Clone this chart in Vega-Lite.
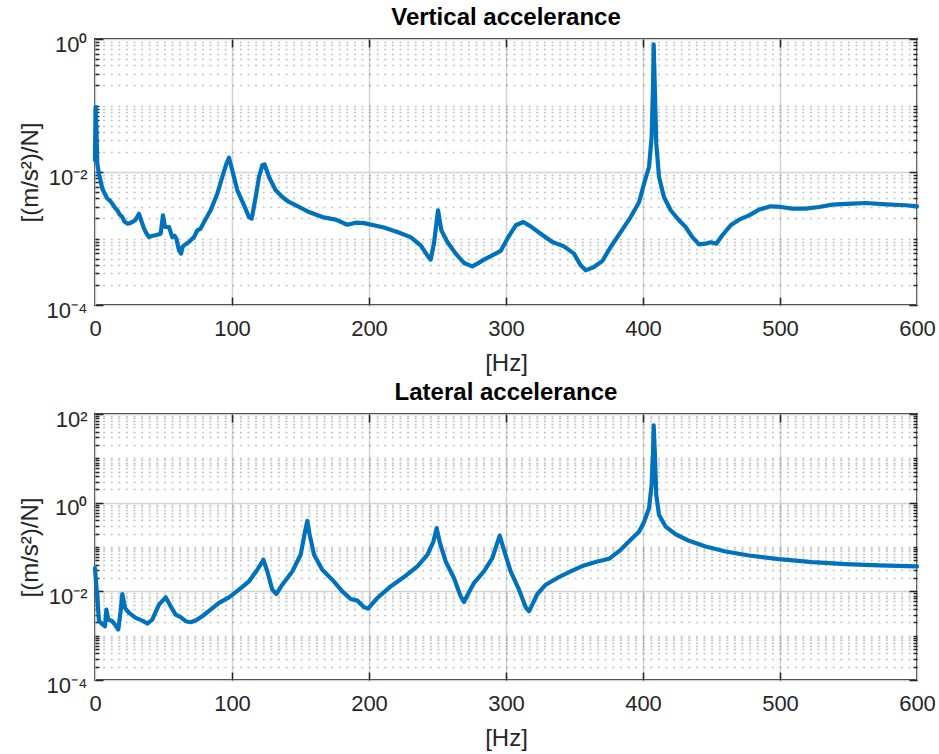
{
  "$schema": "https://vega.github.io/schema/vega-lite/v6.json",
  "background": "white",
  "padding": {"left": 17, "top": 5, "right": 16, "bottom": 2},
  "spacing": 4,
  "config": {
    "font": "Liberation Sans",
    "view": {"stroke": "#262626", "strokeWidth": 1.8},
    "axis": {
      "domain": false,
      "labelFont": "Liberation Sans",
      "labelFontSize": 22,
      "labelColor": "#262626",
      "titleFont": "Liberation Sans",
      "titleFontSize": 24,
      "titleFontWeight": "normal",
      "titleColor": "#262626",
      "tickColor": "#262626",
      "tickWidth": 1.5,
      "gridColor": "#d2d2d2",
      "gridWidth": 1.5,
      "labelFlush": false
    },
    "title": {"font": "Liberation Sans", "fontSize": 24, "fontWeight": "bold", "color": "#000000", "anchor": "middle", "offset": 3},
    "line": {"strokeWidth": 4.2, "color": "#0072BD", "strokeJoin": "round", "strokeCap": "round"}
  },
  "datasets": {
    "vert": [
      {"f":0,"a":0.015},{"f":0.4,"a":0.095},{"f":1.0,"a":0.045},{"f":1.7,"a":0.0133},{"f":2.9,"a":0.00944},{"f":5.35,"a":0.00561},{"f":7,"a":0.0048},{"f":9.0,"a":0.00397},{"f":11,"a":0.0037},{"f":12.65,"a":0.00334},{"f":14.5,"a":0.0029},{"f":16.3,"a":0.00266},{"f":18,"a":0.0023},{"f":19.95,"a":0.0021},{"f":21.5,"a":0.0018},{"f":23.6,"a":0.00167},{"f":25.5,"a":0.0017},{"f":27.25,"a":0.00177},{"f":29.5,"a":0.0019},{"f":32.1,"a":0.00236},{"f":34,"a":0.0018},{"f":35.8,"a":0.00141},{"f":37.5,"a":0.0012},{"f":39.4,"a":0.00105},{"f":42,"a":0.0011},{"f":44.3,"a":0.00112},{"f":47.9,"a":0.00118},{"f":49.6,"a":0.00223},{"f":51.1,"a":0.00149},{"f":54.0,"a":0.00149},{"f":56.4,"a":0.00105},{"f":58,"a":0.0011},{"f":59.4,"a":0.000993},{"f":61.3,"a":0.000664},{"f":62.8,"a":0.000592},{"f":64,"a":0.00075},{"f":65.0,"a":0.000788},{"f":68.6,"a":0.000885},{"f":72.3,"a":0.00105},{"f":74.7,"a":0.00133},{"f":77,"a":0.0014},{"f":79.6,"a":0.00177},{"f":84.4,"a":0.00266},{"f":89.3,"a":0.00472},{"f":92.9,"a":0.00841},{"f":95.9,"a":0.0133},{"f":97.8,"a":0.0164},{"f":100.2,"a":0.0106},{"f":103.9,"a":0.0053},{"f":108.8,"a":0.00316},{"f":112.4,"a":0.0021},{"f":114.4,"a":0.00199},{"f":117.3,"a":0.00421},{"f":119.7,"a":0.00841},{"f":122.1,"a":0.0126},{"f":123.8,"a":0.013},{"f":127.0,"a":0.00841},{"f":131.9,"a":0.0053},{"f":136.7,"a":0.00421},{"f":141.6,"a":0.00354},{"f":148.9,"a":0.00298},{"f":156.2,"a":0.0025},{"f":165.9,"a":0.0021},{"f":175.7,"a":0.00192},{"f":184.2,"a":0.00161},{"f":190.3,"a":0.00173},{"f":196.4,"a":0.0017},{"f":210.9,"a":0.00146},{"f":220.7,"a":0.00125},{"f":230.4,"a":0.00105},{"f":237.7,"a":0.000788},{"f":242.6,"a":0.000558},{"f":245.0,"a":0.000481},{"f":247.4,"a":0.000836},{"f":250.4,"a":0.00266},{"f":252.8,"a":0.00133},{"f":257.2,"a":0.000885},{"f":263.3,"a":0.000592},{"f":269.3,"a":0.000429},{"f":275.4,"a":0.000381},{"f":279.1,"a":0.000419},{"f":283.9,"a":0.000481},{"f":290.0,"a":0.000558},{"f":296.1,"a":0.000649},{"f":301.0,"a":0.000993},{"f":307.1,"a":0.00158},{"f":312.7,"a":0.00177},{"f":318.0,"a":0.00152},{"f":325.3,"a":0.00118},{"f":333.8,"a":0.000885},{"f":342.3,"a":0.000761},{"f":349.6,"a":0.000592},{"f":354.5,"a":0.000395},{"f":358.2,"a":0.000332},{"f":364.2,"a":0.000373},{"f":370.3,"a":0.000459},{"f":376.4,"a":0.000744},{"f":383.7,"a":0.00125},{"f":391.0,"a":0.0021},{"f":397.1,"a":0.0035},{"f":400.6,"a":0.0065},{"f":404.4,"a":0.0119},{"f":406.3,"a":0.0336},{"f":407.3,"a":0.19},{"f":407.8,"a":0.83},{"f":408.6,"a":0.19},{"f":409.7,"a":0.0267},{"f":411.7,"a":0.00841},{"f":415.3,"a":0.00421},{"f":420.2,"a":0.00266},{"f":426.3,"a":0.00188},{"f":431.1,"a":0.00149},{"f":436.0,"a":0.00105},{"f":440.9,"a":0.000817},{"f":445.7,"a":0.000836},{"f":449.4,"a":0.000876},{"f":453.5,"a":0.000836},{"f":457.9,"a":0.00112},{"f":464.0,"a":0.00158},{"f":470.1,"a":0.00192},{"f":477.4,"a":0.00223},{"f":484.7,"a":0.00272},{"f":493.2,"a":0.00305},{"f":500.5,"a":0.00298},{"f":509.0,"a":0.00281},{"f":518.7,"a":0.00281},{"f":528.5,"a":0.00298},{"f":538.2,"a":0.00323},{"f":552.8,"a":0.00334},{"f":562.5,"a":0.00342},{"f":577.1,"a":0.00327},{"f":591.7,"a":0.00316},{"f":600,"a":0.00305}
    ],
    "lat": [
      {"f":0,"a":0.0334},{"f":0.5,"a":0.02},{"f":1.7,"a":0.00708},{"f":2.9,"a":0.00212},{"f":5.8,"a":0.00178},{"f":7.3,"a":0.00163},{"f":8.3,"a":0.00387},{"f":9.7,"a":0.00231},{"f":12.65,"a":0.00212},{"f":15,"a":0.0017},{"f":17.0,"a":0.00138},{"f":18.7,"a":0.00356},{"f":19.95,"a":0.00871},{"f":21.9,"a":0.00422},{"f":24.8,"a":0.00326},{"f":29.7,"a":0.00252},{"f":34.5,"a":0.00219},{"f":38.2,"a":0.00188},{"f":41.8,"a":0.00231},{"f":46.7,"a":0.00501},{"f":51.6,"a":0.00733},{"f":55.2,"a":0.0046},{"f":58.9,"a":0.00299},{"f":62.5,"a":0.00261},{"f":66.2,"a":0.00212},{"f":69.8,"a":0.00201},{"f":73.5,"a":0.00219},{"f":78.3,"a":0.00274},{"f":84.4,"a":0.00387},{"f":90.5,"a":0.00547},{"f":97.8,"a":0.00733},{"f":105.1,"a":0.0109},{"f":112.4,"a":0.0168},{"f":118.5,"a":0.0307},{"f":122.9,"a":0.0516},{"f":125.8,"a":0.0281},{"f":129.4,"a":0.0109},{"f":132.4,"a":0.00871},{"f":136.7,"a":0.0141},{"f":144.0,"a":0.0281},{"f":150.1,"a":0.0667},{"f":153.3,"a":0.223},{"f":155.0,"a":0.387},{"f":156.7,"a":0.188},{"f":159.9,"a":0.0667},{"f":165.9,"a":0.0307},{"f":173.2,"a":0.0183},{"f":180.5,"a":0.01},{"f":186.6,"a":0.00673},{"f":191.5,"a":0.00617},{"f":196.4,"a":0.0044},{"f":199.3,"a":0.00408},{"f":206.1,"a":0.00708},{"f":215.8,"a":0.0129},{"f":225.5,"a":0.021},{"f":235.3,"a":0.0365},{"f":242.6,"a":0.0667},{"f":247.0,"a":0.133},{"f":249.4,"a":0.265},{"f":251.8,"a":0.122},{"f":256.0,"a":0.0472},{"f":262.0,"a":0.02},{"f":266.9,"a":0.00773},{"f":269.3,"a":0.00575},{"f":272.3,"a":0.00871},{"f":276.6,"a":0.0154},{"f":283.9,"a":0.0281},{"f":290.0,"a":0.0561},{"f":293.2,"a":0.112},{"f":295.4,"a":0.181},{"f":298.1,"a":0.0942},{"f":303.4,"a":0.0281},{"f":309.5,"a":0.0109},{"f":314.4,"a":0.00436},{"f":316.8,"a":0.00356},{"f":319.2,"a":0.00501},{"f":322.9,"a":0.00871},{"f":329.0,"a":0.0141},{"f":337.5,"a":0.02},{"f":347.2,"a":0.0281},{"f":356.9,"a":0.0384},{"f":366.7,"a":0.0472},{"f":375.2,"a":0.0542},{"f":383.7,"a":0.0863},{"f":391.0,"a":0.145},{"f":397.1,"a":0.22},{"f":400.7,"a":0.36},{"f":404.4,"a":0.746},{"f":406.3,"a":2.49},{"f":407.3,"a":14.0},{"f":407.8,"a":55.6},{"f":408.6,"a":14.0},{"f":409.7,"a":1.49},{"f":411.7,"a":0.528},{"f":416.5,"a":0.289},{"f":423.8,"a":0.194},{"f":433.6,"a":0.138},{"f":445.7,"a":0.103},{"f":460.3,"a":0.0793},{"f":477.4,"a":0.0644},{"f":499.3,"a":0.0533},{"f":523.6,"a":0.0456},{"f":547.9,"a":0.0411},{"f":572.3,"a":0.0384},{"f":600,"a":0.0365}
    ]
  },
  "vconcat": [
    {
      "width": 822,
      "height": 266,
      "title": {"text": "Vertical accelerance"},
      "data": {"name": "vert"},
      "layer": [
        {
          "mark": {"type": "line", "strokeOpacity": 0},
          "encoding": {
            "x": {"field": "f", "type": "quantitative", "scale": {"domain": [0, 600], "nice": false, "zero": false},
                  "axis": {"orient": "top", "values": [100, 200, 300, 400, 500], "labels": false, "grid": false, "tickSize": -8, "title": null}},
            "y": {"field": "a", "type": "quantitative", "scale": {"type": "log", "domain": [0.0001, 1], "nice": false},
                  "axis": {"orient": "left", "values": [0.0002,0.0003,0.0004,0.0005,0.0006,0.0007,0.0008,0.0009,0.001,0.002,0.003,0.004,0.005,0.006,0.007,0.008,0.009,0.02,0.03,0.04,0.05,0.06,0.07,0.08,0.09,0.1,0.2,0.3,0.4,0.5,0.6,0.7,0.8,0.9],
                           "labels": false, "grid": true, "gridDash": [2, 5.6], "gridColor": "#262626", "gridOpacity": 0.28, "gridWidth": 1.3, "tickSize": -4, "title": null}}
          }
        },
        {
          "mark": {"type": "line", "strokeOpacity": 0},
          "encoding": {
            "x": {"field": "f", "type": "quantitative", "scale": {"domain": [0, 600], "nice": false, "zero": false},
                  "axis": {"orient": "bottom", "values": [100, 200, 300, 400, 500], "labels": false, "grid": false, "tickSize": -8, "title": null}},
            "y": {"field": "a", "type": "quantitative", "scale": {"type": "log", "domain": [0.0001, 1], "nice": false},
                  "axis": {"orient": "right", "values": [0.0002,0.0003,0.0004,0.0005,0.0006,0.0007,0.0008,0.0009,0.001,0.002,0.003,0.004,0.005,0.006,0.007,0.008,0.009,0.02,0.03,0.04,0.05,0.06,0.07,0.08,0.09,0.1,0.2,0.3,0.4,0.5,0.6,0.7,0.8,0.9],
                           "labels": false, "grid": false, "tickSize": -4, "title": null}}
          }
        },
        {
          "mark": {"type": "line", "strokeOpacity": 0},
          "encoding": {
            "x": {"field": "f", "type": "quantitative", "scale": {"domain": [0, 600], "nice": false, "zero": false}, "axis": null},
            "y": {"field": "a", "type": "quantitative", "scale": {"type": "log", "domain": [0.0001, 1], "nice": false},
                  "axis": {"orient": "right", "values": [0.0001, 0.01, 1], "labels": false, "grid": false, "tickSize": -8, "title": null}}
          }
        },
        {
          "mark": {"type": "line", "strokeOpacity": 0},
          "encoding": {
            "x": {"field": "f", "type": "quantitative", "scale": {"domain": [0, 600], "nice": false, "zero": false}, "axis": null},
            "y": {"field": "a", "type": "quantitative", "scale": {"type": "log", "domain": [0.0001, 1], "nice": false},
                  "axis": {"orient": "left", "values": [0.0001, 0.01, 1], "labels": false, "grid": false, "tickSize": -8, "title": null}}
          }
        },
        {
          "mark": {"type": "line"},
          "encoding": {
            "x": {"field": "f", "type": "quantitative", "scale": {"domain": [0, 600], "nice": false, "zero": false},
                  "axis": {"orient": "bottom", "values": [0, 100, 200, 300, 400, 500, 600], "grid": true, "ticks": false, "labelPadding": 13, "title": "[Hz]", "titlePadding": 12}},
            "y": {"field": "a", "type": "quantitative", "scale": {"type": "log", "domain": [0.0001, 1], "nice": false},
                  "axis": {"orient": "left", "values": [0.0001, 0.01, 1], "grid": true, "ticks": false, "labelPadding": 8, "labelOffset": 5,
                           "labelExpr": "datum.value >= 10 ? '10²' : datum.value >= 0.5 ? '10⁰' : datum.value >= 0.005 ? '10⁻²' : '10⁻⁴'",
                           "title": "[(m/s²)/N]", "titlePadding": 4}}
          }
        }
      ],
      "resolve": {"axis": {"x": "independent", "y": "independent"}}
    },
    {
      "width": 822,
      "height": 266,
      "title": {"text": "Lateral accelerance"},
      "data": {"name": "lat"},
      "layer": [
        {
          "mark": {"type": "line", "strokeOpacity": 0},
          "encoding": {
            "x": {"field": "f", "type": "quantitative", "scale": {"domain": [0, 600], "nice": false, "zero": false},
                  "axis": {"orient": "top", "values": [100, 200, 300, 400, 500], "labels": false, "grid": false, "tickSize": -8, "title": null}},
            "y": {"field": "a", "type": "quantitative", "scale": {"type": "log", "domain": [0.0001, 100], "nice": false},
                  "axis": {"orient": "left", "values": [0.0002,0.0003,0.0004,0.0005,0.0006,0.0007,0.0008,0.0009,0.001,0.002,0.003,0.004,0.005,0.006,0.007,0.008,0.009,0.02,0.03,0.04,0.05,0.06,0.07,0.08,0.09,0.1,0.2,0.3,0.4,0.5,0.6,0.7,0.8,0.9,2,3,4,5,6,7,8,9,10,20,30,40,50,60,70,80,90],
                           "labels": false, "grid": true, "gridDash": [2, 5.6], "gridColor": "#262626", "gridOpacity": 0.28, "gridWidth": 1.3, "tickSize": -4, "title": null}}
          }
        },
        {
          "mark": {"type": "line", "strokeOpacity": 0},
          "encoding": {
            "x": {"field": "f", "type": "quantitative", "scale": {"domain": [0, 600], "nice": false, "zero": false},
                  "axis": {"orient": "bottom", "values": [100, 200, 300, 400, 500], "labels": false, "grid": false, "tickSize": -8, "title": null}},
            "y": {"field": "a", "type": "quantitative", "scale": {"type": "log", "domain": [0.0001, 100], "nice": false},
                  "axis": {"orient": "right", "values": [0.0002,0.0003,0.0004,0.0005,0.0006,0.0007,0.0008,0.0009,0.001,0.002,0.003,0.004,0.005,0.006,0.007,0.008,0.009,0.02,0.03,0.04,0.05,0.06,0.07,0.08,0.09,0.1,0.2,0.3,0.4,0.5,0.6,0.7,0.8,0.9,2,3,4,5,6,7,8,9,10,20,30,40,50,60,70,80,90],
                           "labels": false, "grid": false, "tickSize": -4, "title": null}}
          }
        },
        {
          "mark": {"type": "line", "strokeOpacity": 0},
          "encoding": {
            "x": {"field": "f", "type": "quantitative", "scale": {"domain": [0, 600], "nice": false, "zero": false}, "axis": null},
            "y": {"field": "a", "type": "quantitative", "scale": {"type": "log", "domain": [0.0001, 100], "nice": false},
                  "axis": {"orient": "right", "values": [0.0001, 0.01, 1, 100], "labels": false, "grid": false, "tickSize": -8, "title": null}}
          }
        },
        {
          "mark": {"type": "line", "strokeOpacity": 0},
          "encoding": {
            "x": {"field": "f", "type": "quantitative", "scale": {"domain": [0, 600], "nice": false, "zero": false}, "axis": null},
            "y": {"field": "a", "type": "quantitative", "scale": {"type": "log", "domain": [0.0001, 100], "nice": false},
                  "axis": {"orient": "left", "values": [0.0001, 0.01, 1, 100], "labels": false, "grid": false, "tickSize": -8, "title": null}}
          }
        },
        {
          "mark": {"type": "line"},
          "encoding": {
            "x": {"field": "f", "type": "quantitative", "scale": {"domain": [0, 600], "nice": false, "zero": false},
                  "axis": {"orient": "bottom", "values": [0, 100, 200, 300, 400, 500, 600], "grid": true, "ticks": false, "labelPadding": 13, "title": "[Hz]", "titlePadding": 12}},
            "y": {"field": "a", "type": "quantitative", "scale": {"type": "log", "domain": [0.0001, 100], "nice": false},
                  "axis": {"orient": "left", "values": [0.0001, 0.01, 1, 100], "grid": true, "ticks": false, "labelPadding": 8, "labelOffset": 5,
                           "labelExpr": "datum.value >= 10 ? '10²' : datum.value >= 0.5 ? '10⁰' : datum.value >= 0.005 ? '10⁻²' : '10⁻⁴'",
                           "title": "[(m/s²)/N]", "titlePadding": 4}}
          }
        }
      ],
      "resolve": {"axis": {"x": "independent", "y": "independent"}}
    }
  ]
}
